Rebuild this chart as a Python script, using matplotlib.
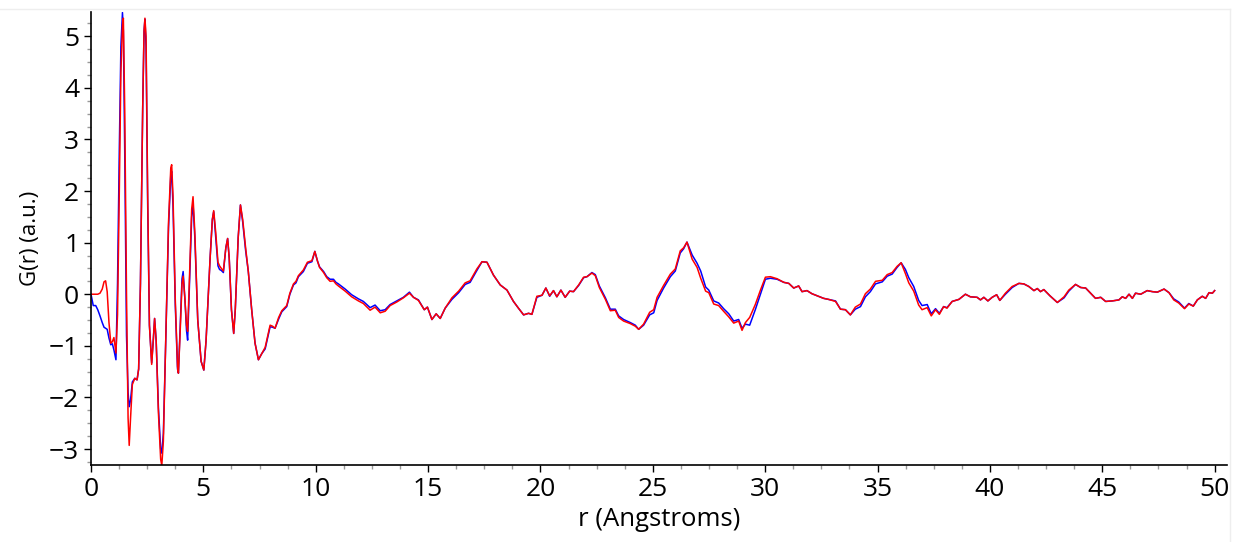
import matplotlib
matplotlib.use("Agg")
import matplotlib.pyplot as plt
from matplotlib.ticker import MultipleLocator
from matplotlib.lines import Line2D

# r grid shared by both curves (Angstroms)
r = [0.00, 0.10, 0.21, 0.30, 0.40, 0.50, 0.58, 0.65, 0.72, 0.80, 0.88, 0.95, 1.02, 1.11,
     1.18, 1.26, 1.33, 1.40, 1.44, 1.50, 1.58, 1.65, 1.70, 1.76, 1.84, 1.95, 2.05, 2.12,
     2.20, 2.30, 2.36, 2.40, 2.45, 2.52, 2.60, 2.70, 2.77, 2.83, 2.90, 3.00, 3.10, 3.15,
     3.22, 3.32, 3.45, 3.55, 3.59, 3.65, 3.75, 3.85, 3.89, 3.97, 4.05, 4.10, 4.18, 4.25,
     4.30, 4.38, 4.48, 4.54, 4.62, 4.75, 4.90, 5.02, 5.12, 5.30, 5.40, 5.46, 5.55, 5.65,
     5.72, 5.80, 5.89, 6.00, 6.08, 6.15, 6.25, 6.35, 6.42, 6.55, 6.65, 6.75, 6.88, 7.00,
     7.15, 7.30, 7.45, 7.60, 7.75, 7.87, 7.97, 8.08, 8.19, 8.35, 8.49, 8.71, 8.85, 9.01,
     9.12, 9.23, 9.45, 9.63, 9.83, 9.96, 10.08, 10.17, 10.35, 10.49, 10.64, 10.79, 10.90,
     11.01, 11.31, 11.60, 11.90, 12.12, 12.42, 12.64, 12.87, 13.09, 13.31, 13.61, 13.90,
     14.17, 14.35, 14.57, 14.83, 14.97, 15.17, 15.36, 15.54, 15.76, 16.06, 16.36, 16.65,
     16.87, 17.17, 17.40, 17.62, 17.91, 18.21, 18.51, 18.80, 19.02, 19.25, 19.47, 19.62,
     19.84, 20.07, 20.24, 20.41, 20.58, 20.73, 20.91, 21.10, 21.30, 21.47, 21.70, 21.92,
     22.07, 22.29, 22.44, 22.62, 22.89, 23.11, 23.33, 23.48, 23.70, 24.00, 24.22, 24.37,
     24.59, 24.86, 25.04, 25.19, 25.48, 25.78, 26.00, 26.22, 26.37, 26.52, 26.75, 26.97,
     27.13, 27.35, 27.49, 27.71, 27.93, 28.15, 28.38, 28.60, 28.82, 28.97, 29.12, 29.31,
     29.56, 29.79, 30.01, 30.23, 30.53, 30.83, 31.05, 31.27, 31.49, 31.64, 31.86, 32.08,
     32.31, 32.60, 32.82, 33.13, 33.35, 33.57, 33.79, 34.01, 34.24, 34.46, 34.68, 34.91,
     35.21, 35.43, 35.65, 35.87, 36.05, 36.24, 36.39, 36.61, 36.83, 36.98, 37.21, 37.39,
     37.58, 37.75, 37.94, 38.09, 38.32, 38.62, 38.91, 39.13, 39.43, 39.58, 39.73, 39.91,
     40.10, 40.30, 40.44, 40.69, 40.99, 41.29, 41.51, 41.73, 41.96, 42.11, 42.25, 42.40,
     42.67, 43.00, 43.30, 43.51, 43.81, 44.04, 44.26, 44.48, 44.70, 44.93, 45.15, 45.44,
     45.74, 45.89, 46.04, 46.19, 46.34, 46.48, 46.71, 47.00, 47.23, 47.45, 47.75, 47.97,
     48.18, 48.40, 48.66, 48.85, 49.05, 49.23, 49.45, 49.60, 49.75, 49.90, 50.00]

g_blue = [0.00, -0.22, -0.22, -0.30, -0.42, -0.55, -0.64, -0.66, -0.68, -0.85, -0.98, -0.96, -1.08, -1.27,
          0.20, 2.80, 4.80, 5.46, 5.10, 2.80, -0.80, -1.90, -2.18, -2.05, -1.70, -1.63, -1.66, -1.45,
          0.20, 3.60, 5.10, 5.33, 4.80, 1.80, -0.60, -1.33, -0.90, -0.47, -0.90, -2.20, -3.00, -3.08,
          -2.70, -1.00, 1.30, 2.30, 2.38, 1.70, -0.20, -1.45, -1.53, -0.60, 0.30, 0.44, -0.10, -0.70,
          -0.89, 0.20, 1.50, 1.75, 1.10, -0.50, -1.30, -1.47, -0.90, 0.70, 1.45, 1.60, 1.10, 0.55,
          0.48, 0.46, 0.42, 0.90, 1.08, 0.70, -0.30, -0.76, -0.30, 1.10, 1.73, 1.40, 0.85, 0.44,
          -0.30, -0.95, -1.27, -1.15, -1.06, -0.82, -0.63, -0.64, -0.66, -0.48, -0.34, -0.24, 0.00, 0.18,
          0.22, 0.34, 0.44, 0.60, 0.63, 0.83, 0.64, 0.53, 0.44, 0.34, 0.29, 0.29, 0.23,
          0.20, 0.10, -0.01, -0.09, -0.14, -0.26, -0.21, -0.32, -0.30, -0.20, -0.13, -0.06,
          0.04, -0.06, -0.11, -0.30, -0.25, -0.49, -0.38, -0.47, -0.27, -0.10, 0.03, 0.19,
          0.23, 0.46, 0.63, 0.62, 0.37, 0.18, 0.08, -0.14, -0.27, -0.40, -0.37, -0.39,
          -0.06, -0.02, 0.12, -0.04, 0.07, -0.05, 0.08, -0.06, 0.06, 0.05, 0.17, 0.32,
          0.34, 0.42, 0.38, 0.16, -0.07, -0.29, -0.29, -0.42, -0.49, -0.55, -0.60, -0.68,
          -0.60, -0.40, -0.36, -0.12, 0.12, 0.34, 0.45, 0.80, 0.88, 1.01, 0.76, 0.60,
          0.45, 0.14, 0.08, -0.13, -0.17, -0.28, -0.38, -0.52, -0.49, -0.66, -0.58, -0.60,
          -0.30, 0.00, 0.29, 0.31, 0.29, 0.23, 0.21, 0.12, 0.16, 0.05, 0.07, 0.01,
          -0.03, -0.08, -0.10, -0.13, -0.29, -0.30, -0.40, -0.29, -0.24, -0.05, 0.05, 0.20,
          0.24, 0.35, 0.39, 0.52, 0.61, 0.48, 0.32, 0.15, -0.12, -0.22, -0.20, -0.38,
          -0.28, -0.37, -0.24, -0.26, -0.14, -0.10, 0.00, -0.05, -0.06, -0.11, -0.06, -0.13,
          -0.06, -0.01, -0.12, 0.00, 0.13, 0.21, 0.20, 0.15, 0.07, 0.11, 0.05, 0.09,
          -0.03, -0.16, -0.07, 0.06, 0.19, 0.13, 0.12, 0.02, -0.08, -0.06, -0.14, -0.13,
          -0.11, -0.05, -0.08, 0.00, -0.08, 0.02, 0.00, 0.07, 0.05, 0.04, 0.10, 0.03,
          -0.09, -0.15, -0.27, -0.18, -0.23, -0.11, -0.04, -0.08, 0.03, 0.02, 0.07]

g_red = [0.00, 0.00, 0.00, 0.00, 0.02, 0.10, 0.24, 0.26, 0.05, -0.55, -0.95, -0.92, -0.84, -1.14,
         -0.40, 2.00, 4.30, 5.20, 5.35, 3.60, 0.00, -2.40, -2.93, -2.40, -1.75, -1.63, -1.66, -1.45,
         0.20, 3.60, 5.10, 5.35, 5.00, 2.00, -0.60, -1.36, -0.90, -0.47, -0.90, -2.30, -3.20, -3.32,
         -2.85, -1.00, 1.40, 2.45, 2.51, 1.90, -0.10, -1.40, -1.53, -0.70, 0.20, 0.35, -0.10, -0.60,
         -0.72, 0.30, 1.65, 1.89, 1.20, -0.50, -1.30, -1.47, -0.90, 0.70, 1.45, 1.62, 1.20, 0.62,
         0.55, 0.50, 0.45, 0.90, 1.08, 0.70, -0.30, -0.76, -0.30, 1.10, 1.73, 1.45, 0.90, 0.44,
         -0.30, -0.95, -1.27, -1.15, -1.03, -0.80, -0.60, -0.62, -0.66, -0.45, -0.32, -0.22, 0.02, 0.20,
         0.25, 0.36, 0.47, 0.62, 0.65, 0.83, 0.64, 0.52, 0.42, 0.32, 0.25, 0.26, 0.20,
         0.16, 0.06, -0.05, -0.13, -0.18, -0.31, -0.25, -0.36, -0.33, -0.22, -0.15, -0.07,
         0.02, -0.06, -0.12, -0.30, -0.25, -0.49, -0.38, -0.47, -0.27, -0.07, 0.06, 0.22,
         0.26, 0.49, 0.63, 0.62, 0.37, 0.18, 0.08, -0.14, -0.27, -0.40, -0.37, -0.39,
         -0.04, -0.02, 0.12, -0.03, 0.07, -0.05, 0.08, -0.06, 0.06, 0.05, 0.18, 0.33,
         0.34, 0.41, 0.36, 0.13, -0.10, -0.32, -0.31, -0.45, -0.52, -0.57, -0.62, -0.68,
         -0.58, -0.35, -0.30, -0.06, 0.17, 0.39, 0.49, 0.84, 0.90, 1.01, 0.68, 0.52,
         0.31, 0.06, 0.03, -0.19, -0.22, -0.33, -0.44, -0.56, -0.52, -0.70, -0.55, -0.45,
         -0.20, 0.08, 0.33, 0.34, 0.30, 0.23, 0.21, 0.12, 0.16, 0.05, 0.07, 0.01,
         -0.03, -0.08, -0.10, -0.14, -0.29, -0.30, -0.40, -0.25, -0.19, 0.01, 0.10, 0.25,
         0.27, 0.38, 0.42, 0.54, 0.61, 0.40, 0.22, 0.06, -0.21, -0.30, -0.26, -0.42,
         -0.30, -0.39, -0.24, -0.27, -0.14, -0.10, 0.00, -0.05, -0.06, -0.11, -0.06, -0.13,
         -0.06, -0.01, -0.12, 0.02, 0.15, 0.21, 0.20, 0.15, 0.07, 0.11, 0.05, 0.09,
         -0.03, -0.16, -0.05, 0.08, 0.19, 0.13, 0.12, 0.02, -0.08, -0.06, -0.14, -0.13,
         -0.11, -0.05, -0.08, 0.00, -0.08, 0.02, 0.00, 0.07, 0.05, 0.04, 0.10, 0.03,
         -0.11, -0.17, -0.28, -0.19, -0.23, -0.11, -0.04, -0.08, 0.03, 0.02, 0.07]

plt.rcParams['font.family'] = ['Open Sans', 'DejaVu Sans']

fig = plt.figure(figsize=(12.42, 5.42), dpi=100)
ax = fig.add_axes([91 / 1242, 77 / 542, 1136 / 1242, 453 / 542])

ax.plot(r, g_blue, color='#0000ff', lw=1.1)
ax.plot(r, g_red, color='#ff0000', lw=1.1)

ax.set_xlim(0, 50.55)
ax.set_ylim(-3.31, 5.47)
ax.xaxis.set_major_locator(MultipleLocator(5))
ax.xaxis.set_minor_locator(MultipleLocator(1.25))
ax.yaxis.set_major_locator(MultipleLocator(1))
ax.yaxis.set_minor_locator(MultipleLocator(0.25))
ax.tick_params(which='major', direction='out', length=5, width=1, labelsize=19, color='black')
ax.tick_params(which='minor', direction='out', length=3, width=1, color='#999999')

for side in ['top', 'right']:
    ax.spines[side].set_visible(False)
for side in ['left', 'bottom']:
    ax.spines[side].set_linewidth(1.2)

ax.set_xlabel("r (Angstroms)", fontsize=18.5, labelpad=4)
ax.set_ylabel("G(r) (a.u.)", fontsize=16, labelpad=6)

# faint outer frame on top and right
fig.add_artist(Line2D([0, 1230 / 1242], [1 - 9 / 542, 1 - 9 / 542], color='#eeeeee', lw=1))
fig.add_artist(Line2D([1230 / 1242, 1230 / 1242], [0, 1 - 9 / 542], color='#eeeeee', lw=1))

fig.savefig("out.png", dpi=100)
